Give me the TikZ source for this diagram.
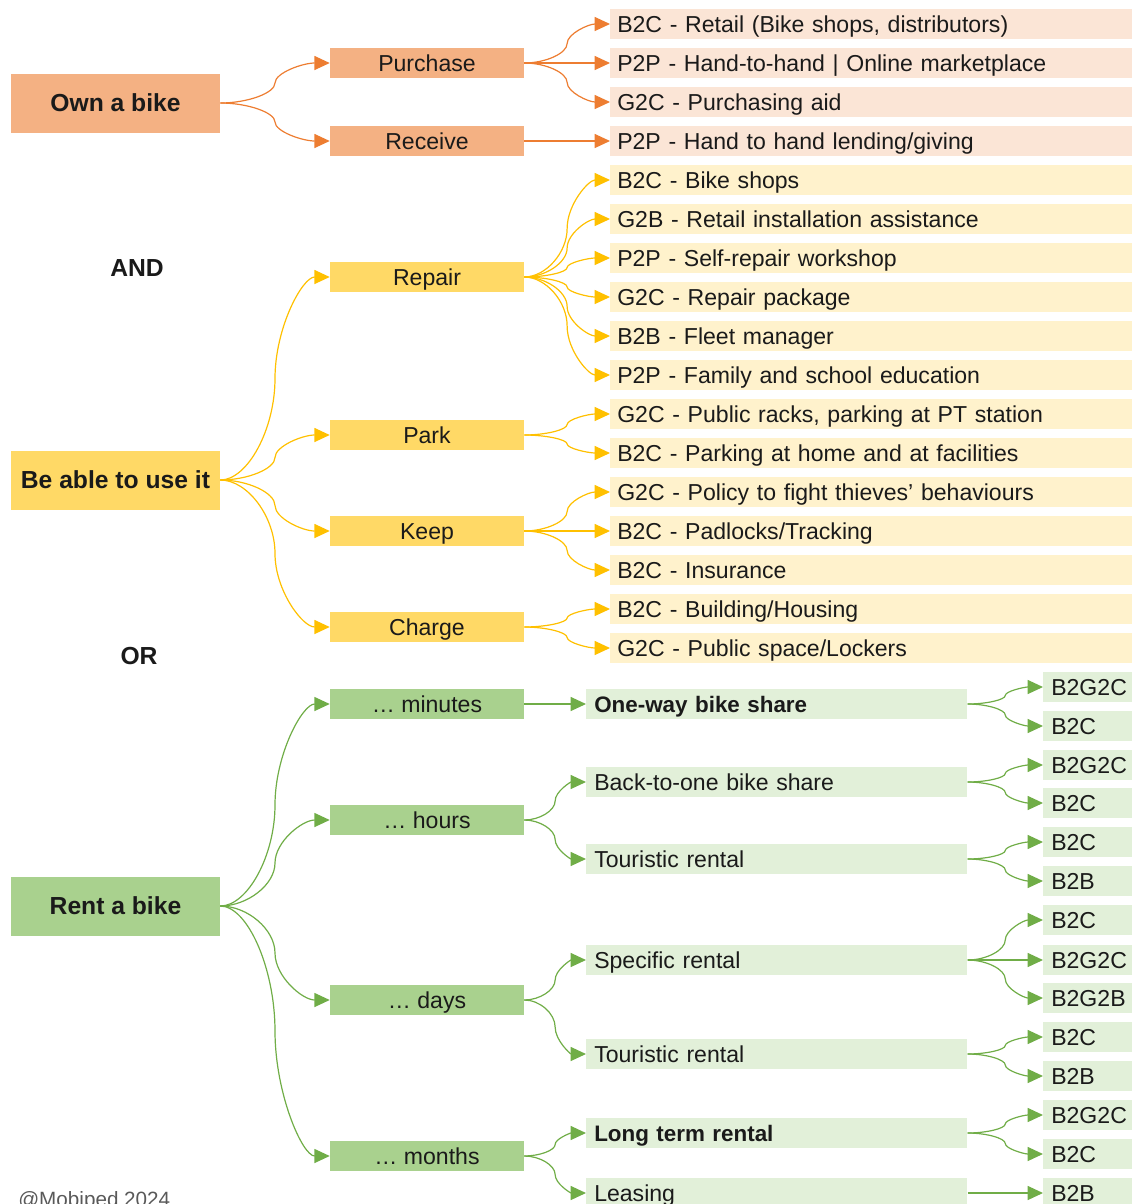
\documentclass[tikz,border=0pt]{standalone}
\usepackage{fontspec}
\setmainfont{Liberation Sans}
\usetikzlibrary{arrows.meta,calc}
\definecolor{oD}{HTML}{F4B183}
\definecolor{oL}{HTML}{FBE5D6}
\definecolor{oA}{HTML}{ED7D31}
\definecolor{yD}{HTML}{FFD966}
\definecolor{yL}{HTML}{FFF2CC}
\definecolor{yA}{HTML}{FFC000}
\definecolor{gD}{HTML}{A9D18E}
\definecolor{gL}{HTML}{E2F0D9}
\definecolor{gA}{HTML}{70AD47}
\definecolor{txt}{HTML}{1A1A1A}
\definecolor{credit}{HTML}{595959}
\newcommand{\linkto}[3]{\draw[#1] let \p1=(#2.east), \p2=(#3.west) in (\p1)
  .. controls ({0.75*\x1+0.25*\x2},\y1) and ({0.5*\x1+0.5*\x2},{0.75*\y1+0.25*\y2})
  .. ({0.5*\x1+0.5*\x2},{0.5*\y1+0.5*\y2})
  .. controls ({0.5*\x1+0.5*\x2},{0.25*\y1+0.75*\y2}) and ({0.25*\x1+0.75*\x2},\y2)
  .. (\p2);}
\begin{document}
\begin{tikzpicture}[x=0.75pt,y=-0.75pt,
  every node/.style={text=txt, font=\fontsize{17.3}{20}\selectfont},
  base/.style={inner ysep=0pt, text height=14pt, text depth=1.8pt},
  lzero/.style={base, inner xsep=0pt, minimum width=156.75pt, minimum height=44.25pt, font=\fontsize{18.5}{21}\selectfont\bfseries},
  lone/.style={base, inner xsep=0pt, minimum width=145.5pt, minimum height=22.5pt},
  ltwo/.style={base, anchor=west, inner xsep=5.25pt, text width=381pt, align=left, minimum height=22.5pt},
  gtwo/.style={base, anchor=west, inner xsep=6pt, text width=273.75pt, align=left, minimum height=22.5pt},
  gthree/.style={base, anchor=west, inner xsep=6pt, text width=54.75pt, align=left, minimum height=22.5pt},
  bolder/.style={font=\fontsize{16.8}{20}\selectfont\bfseries},
  oarr/.style={line width=0.9pt, draw=oA, -{Triangle[length=11.5pt,width=10.5pt,fill=oA]}},
  yarr/.style={line width=0.9pt, draw=yA, -{Triangle[length=11.5pt,width=10.5pt,fill=yA]}},
  garr/.style={line width=0.9pt, draw=gA, -{Triangle[length=11.5pt,width=10.5pt,fill=gA]}},
  label/.style={font=\fontsize{18.5}{21}\selectfont\bfseries}
]
\useasboundingbox (0,0) rectangle (1134,1204);
\clip (0,0) rectangle (1134,1204);

% ---------- Own a bike ----------
\node[lzero, fill=oD] (own) at (115.5,103) {Own a bike};
\node[lone, fill=oD] (purchase) at (427,63) {Purchase};
\node[lone, fill=oD] (receive) at (427,141) {Receive};
\node[ltwo, fill=oL] (o1) at (610,24) {B2C - Retail (Bike shops, distributors)};
\node[ltwo, fill=oL] (o2) at (610,63) {P2P - Hand-to-hand | Online marketplace};
\node[ltwo, fill=oL] (o3) at (610,102) {G2C - Purchasing aid};
\node[ltwo, fill=oL] (o4) at (610,141) {P2P - Hand to hand lending/giving};
\linkto{oarr}{own}{purchase}
\linkto{oarr}{own}{receive}
\linkto{oarr}{purchase}{o1}
\linkto{oarr}{purchase}{o2}
\linkto{oarr}{purchase}{o3}
\linkto{oarr}{receive}{o4}

% ---------- Be able to use it ----------
\node[label] (and) at (137,268) {AND};
\node[lzero, fill=yD] (use) at (115.5,480) {Be able to use it};
\node[lone, fill=yD] (repair) at (427,277) {Repair};
\node[lone, fill=yD] (park) at (427,435) {Park};
\node[lone, fill=yD] (keep) at (427,531) {Keep};
\node[lone, fill=yD] (charge) at (427,627) {Charge};
\node[ltwo, fill=yL] (y1) at (610,180) {B2C - Bike shops};
\node[ltwo, fill=yL] (y2) at (610,219) {G2B - Retail installation assistance};
\node[ltwo, fill=yL] (y3) at (610,258) {P2P - Self-repair workshop};
\node[ltwo, fill=yL] (y4) at (610,297) {G2C - Repair package};
\node[ltwo, fill=yL] (y5) at (610,336) {B2B - Fleet manager};
\node[ltwo, fill=yL] (y6) at (610,375) {P2P - Family and school education};
\node[ltwo, fill=yL] (y7) at (610,414) {G2C - Public racks, parking at PT station};
\node[ltwo, fill=yL] (y8) at (610,453) {B2C - Parking at home and at facilities};
\node[ltwo, fill=yL] (y9) at (610,492) {G2C - Policy to fight thieves’ behaviours};
\node[ltwo, fill=yL] (y10) at (610,531) {B2C - Padlocks/Tracking};
\node[ltwo, fill=yL] (y11) at (610,570) {B2C - Insurance};
\node[ltwo, fill=yL] (y12) at (610,609) {B2C - Building/Housing};
\node[ltwo, fill=yL] (y13) at (610,648) {G2C - Public space/Lockers};
\linkto{yarr}{use}{repair}
\linkto{yarr}{use}{park}
\linkto{yarr}{use}{keep}
\linkto{yarr}{use}{charge}
\foreach \k in {1,...,6} {\linkto{yarr}{repair}{y\k}}
\foreach \k in {7,8} {\linkto{yarr}{park}{y\k}}
\foreach \k in {9,10,11} {\linkto{yarr}{keep}{y\k}}
\foreach \k in {12,13} {\linkto{yarr}{charge}{y\k}}

% ---------- Rent a bike ----------
\node[label] (or) at (139,656) {OR};
\node[lzero, fill=gD] (rent) at (115.5,906) {Rent a bike};
\node[lone, fill=gD] (minutes) at (427,704) {… minutes};
\node[lone, fill=gD] (hours) at (427,820) {… hours};
\node[lone, fill=gD] (days) at (427,1000) {… days};
\node[lone, fill=gD] (months) at (427,1156) {… months};
\node[gtwo, fill=gL, bolder] (oneway) at (586,704) {One-way bike share};
\node[gtwo, fill=gL] (backone) at (586,782) {Back-to-one bike share};
\node[gtwo, fill=gL] (tour1) at (586,859) {Touristic rental};
\node[gtwo, fill=gL] (specific) at (586,960) {Specific rental};
\node[gtwo, fill=gL] (tour2) at (586,1054) {Touristic rental};
\node[gtwo, fill=gL, bolder] (longterm) at (586,1133) {Long term rental};
\node[gtwo, fill=gL] (leasing) at (586,1193) {Leasing};
\node[gthree, fill=gL] (a1) at (1043,687) {B2G2C};
\node[gthree, fill=gL] (a2) at (1043,726) {B2C};
\node[gthree, fill=gL] (b1) at (1043,765) {B2G2C};
\node[gthree, fill=gL] (b2) at (1043,803) {B2C};
\node[gthree, fill=gL] (c1) at (1043,842) {B2C};
\node[gthree, fill=gL] (c2) at (1043,881) {B2B};
\node[gthree, fill=gL] (d1) at (1043,920) {B2C};
\node[gthree, fill=gL] (d2) at (1043,960) {B2G2C};
\node[gthree, fill=gL] (d3) at (1043,998) {B2G2B};
\node[gthree, fill=gL] (e1) at (1043,1037) {B2C};
\node[gthree, fill=gL] (e2) at (1043,1076) {B2B};
\node[gthree, fill=gL] (f1) at (1043,1115) {B2G2C};
\node[gthree, fill=gL] (f2) at (1043,1154) {B2C};
\node[gthree, fill=gL] (h1) at (1043,1193) {B2B};
\linkto{garr}{rent}{minutes}
\linkto{garr}{rent}{hours}
\linkto{garr}{rent}{days}
\linkto{garr}{rent}{months}
\linkto{garr}{minutes}{oneway}
\linkto{garr}{hours}{backone}
\linkto{garr}{hours}{tour1}
\linkto{garr}{days}{specific}
\linkto{garr}{days}{tour2}
\linkto{garr}{months}{longterm}
\linkto{garr}{months}{leasing}
\linkto{garr}{oneway}{a1}
\linkto{garr}{oneway}{a2}
\linkto{garr}{backone}{b1}
\linkto{garr}{backone}{b2}
\linkto{garr}{tour1}{c1}
\linkto{garr}{tour1}{c2}
\linkto{garr}{specific}{d1}
\linkto{garr}{specific}{d2}
\linkto{garr}{specific}{d3}
\linkto{garr}{tour2}{e1}
\linkto{garr}{tour2}{e2}
\linkto{garr}{longterm}{f1}
\linkto{garr}{longterm}{f2}
\linkto{garr}{leasing}{h1}

\node[anchor=base west, text=credit, font=\fontsize{15.5}{18}\selectfont, inner sep=0pt] (credit) at (18,1206) {@Mobiped 2024};
\end{tikzpicture}
\end{document}
